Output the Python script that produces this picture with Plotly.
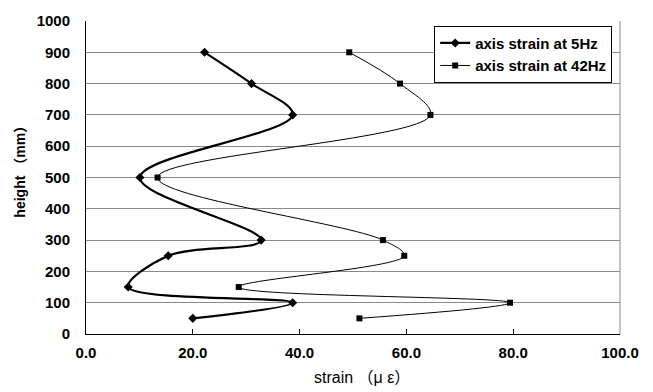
import plotly.graph_objects as go

heights = [900, 800, 700, 500, 300, 250, 150, 100, 50]
strain_5hz = [22.2, 31.0, 38.7, 10.1, 32.8, 15.4, 7.9, 38.7, 20.0]
strain_42hz = [49.3, 58.8, 64.5, 13.4, 55.6, 59.6, 28.6, 79.4, 51.2]
x_ticks = [0, 20, 40, 60, 80, 100]
y_ticks = list(range(0, 1001, 100))

FONT = "Liberation Sans, Arial, Noto Sans CJK JP"

fig = go.Figure()
fig.add_trace(go.Scatter(
    x=strain_5hz, y=heights, name="axis strain at 5Hz",
    mode="lines+markers",
    line=dict(color="black", width=2.2, shape="spline", smoothing=1.0),
    marker=dict(symbol="diamond", size=7, color="black"),
))
fig.add_trace(go.Scatter(
    x=strain_42hz, y=heights, name="axis strain at 42Hz",
    mode="lines+markers",
    line=dict(color="black", width=1, shape="spline", smoothing=1.0),
    marker=dict(symbol="square", size=6, color="black"),
))

fig.update_layout(
    width=653, height=392,
    margin=dict(l=86, r=33, t=16, b=58),
    paper_bgcolor="white", plot_bgcolor="white",
    font=dict(family=FONT, size=15, color="black"),
    showlegend=True,
    legend=dict(
        x=0.652, y=0.985, xanchor="left", yanchor="top",
        bgcolor="white", bordercolor="black", borderwidth=1,
        font=dict(family=FONT, size=15, color="black", weight="bold"),
        tracegroupgap=0, itemwidth=30,
    ),
    xaxis=dict(
        range=[0, 100], tickvals=x_ticks, tickformat=".1f",
        showgrid=False, zeroline=False,
        showline=True, linecolor="black", linewidth=1,
        ticks="inside", ticklen=5, tickcolor="black",
        ticklabelstandoff=5,
        tickfont=dict(family=FONT, size=15, color="black", weight="bold"),
    ),
    yaxis=dict(
        range=[0, 1000], tickvals=y_ticks,
        showgrid=True, gridcolor="#8a8a8a", gridwidth=1,
        zeroline=False,
        showline=True, linecolor="black", linewidth=1,
        ticks="", ticklabelstandoff=12,
        tickfont=dict(family=FONT, size=15, color="black", weight="bold"),
    ),
    shapes=[
        dict(type="line", xref="paper", yref="paper", x0=1, x1=1, y0=0, y1=1,
             line=dict(color="#8a8a8a", width=1)),
    ],
    annotations=[
        dict(text="strain （μ ε）", xref="paper", yref="paper",
             x=(362 - 86) / 534, y=-(378 - 334) / 318,
             xanchor="center", yanchor="middle", showarrow=False,
             font=dict(family=FONT, size=16, color="black")),
        dict(text="height （mm）", xref="paper", yref="paper",
             x=-(86 - 20) / 534, y=(334 - 166) / 318,
             xanchor="center", yanchor="middle", showarrow=False, textangle=-90,
             font=dict(family=FONT, size=14, color="black", weight="bold")),
    ],
)

fig.write_html("out.html")
